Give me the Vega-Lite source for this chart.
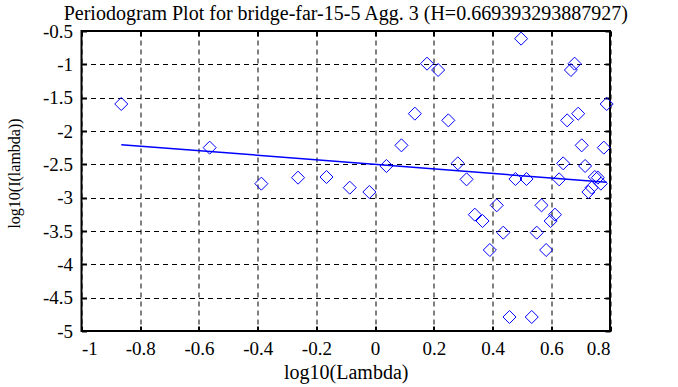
{
  "$schema": "https://vega.github.io/schema/vega-lite/v6.json",
  "autosize": "none",
  "width": 528.5,
  "height": 300,
  "padding": {"left": 81.5, "top": 31, "right": 68, "bottom": 56},
  "background": "white",
  "title": {
    "text": "Periodogram Plot for bridge-far-15-5 Agg. 3 (H=0.669393293887927)",
    "font": "Liberation Serif",
    "fontSize": 20,
    "fontWeight": "normal",
    "color": "black",
    "anchor": "middle",
    "frame": "group",
    "offset": -2
  },
  "config": {
    "view": {"stroke": "black", "strokeWidth": 2},
    "font": "Liberation Serif",
    "axis": {"labelFont": "Liberation Serif", "titleFont": "Liberation Serif"},
    "style": {"guide-label": {"font": "Liberation Serif"}, "guide-title": {"font": "Liberation Serif"}}
  },
  "datasets": {
    "pts": [
      {"x": -0.8646, "y": -1.595}, {"x": -0.5635, "y": -2.25}, {"x": -0.3874, "y": -2.79},
      {"x": -0.2625, "y": -2.70}, {"x": -0.1656, "y": -2.69}, {"x": -0.0864, "y": -2.85},
      {"x": -0.0195, "y": -2.915}, {"x": 0.0385, "y": -2.525}, {"x": 0.0897, "y": -2.215},
      {"x": 0.1354, "y": -1.74}, {"x": 0.1768, "y": -0.99}, {"x": 0.2146, "y": -1.085},
      {"x": 0.2494, "y": -1.84}, {"x": 0.2816, "y": -2.485}, {"x": 0.3115, "y": -2.725},
      {"x": 0.3396, "y": -3.255}, {"x": 0.3659, "y": -3.35}, {"x": 0.3907, "y": -3.785},
      {"x": 0.4142, "y": -3.115}, {"x": 0.4365, "y": -3.525}, {"x": 0.4577, "y": -4.79},
      {"x": 0.4779, "y": -2.72}, {"x": 0.4972, "y": -0.615}, {"x": 0.5157, "y": -2.72},
      {"x": 0.5334, "y": -4.79}, {"x": 0.5504, "y": -3.525}, {"x": 0.5668, "y": -3.115},
      {"x": 0.5826, "y": -3.785}, {"x": 0.5978, "y": -3.35}, {"x": 0.6126, "y": -3.255},
      {"x": 0.6268, "y": -2.725}, {"x": 0.6406, "y": -2.485}, {"x": 0.6540, "y": -1.84},
      {"x": 0.6669, "y": -1.085}, {"x": 0.6795, "y": -0.99}, {"x": 0.6917, "y": -1.74},
      {"x": 0.7036, "y": -2.215}, {"x": 0.7152, "y": -2.525}, {"x": 0.7265, "y": -2.915},
      {"x": 0.7375, "y": -2.85}, {"x": 0.7482, "y": -2.69}, {"x": 0.7587, "y": -2.70},
      {"x": 0.7689, "y": -2.79}, {"x": 0.7789, "y": -2.25}, {"x": 0.7887, "y": -1.595}
    ],
    "fit": [
      {"x": -0.8646, "y": -2.205},
      {"x": 0.7887, "y": -2.77}
    ]
  },
  "layer": [
    {
      "data": {"name": "fit"},
      "mark": {"type": "line", "color": "#0000ff", "strokeWidth": 1.5},
      "encoding": {
        "x": {
          "field": "x", "type": "quantitative",
          "scale": {"domain": [-1, 0.8], "nice": false, "zero": false},
          "axis": {
            "orient": "bottom",
            "title": "log10(Lambda)",
            "labelFont": "Liberation Serif",
            "titleFont": "Liberation Serif",
            "labelFontSize": 19,
            "titleFontSize": 20,
            "titleFontWeight": "normal",
            "labelColor": "black",
            "titleColor": "black",
            "domain": false,
            "tickColor": "black",
            "tickWidth": 2,
            "tickSize": -5,
            "grid": true,
            "gridColor": "black",
            "gridOpacity": 1,
            "gridDash": [5, 4],
            "gridWidth": 1,
            "values": [-1, -0.8, -0.6, -0.4, -0.2, 0, 0.2, 0.4, 0.6, 0.8],
            "labelExpr": "replace(format(datum.value, '.1~f'), '\u2212', '-')",
            "labelPadding": 13,
            "titlePadding": 4
          }
        },
        "y": {
          "field": "y", "type": "quantitative",
          "scale": {"domain": [-5, -0.5], "nice": false, "zero": false},
          "axis": {
            "orient": "left",
            "title": "log10(I(lambda))",
            "labelFont": "Liberation Serif",
            "titleFont": "Liberation Serif",
            "labelFontSize": 19,
            "titleFontSize": 16,
            "titleFontWeight": "normal",
            "labelColor": "black",
            "titleColor": "black",
            "domain": false,
            "tickColor": "black",
            "tickWidth": 2,
            "tickSize": -5,
            "grid": true,
            "gridColor": "black",
            "gridOpacity": 1,
            "gridDash": [5, 4],
            "gridWidth": 1,
            "values": [-5, -4.5, -4, -3.5, -3, -2.5, -2, -1.5, -1, -0.5],
            "labelExpr": "replace(format(datum.value, '.1~f'), '\u2212', '-')",
            "labelPadding": 14,
            "titlePadding": 20,
            "titleY": 142
          }
        }
      }
    },
    {
      "data": {"name": "pts"},
      "mark": {"type": "point", "shape": "diamond", "size": 170, "filled": false, "color": "#0000ff", "strokeWidth": 1, "opacity": 1},
      "encoding": {
        "x": {
          "field": "x", "type": "quantitative",
          "axis": {
            "orient": "top", "title": null, "labels": false, "grid": false, "domain": false,
            "tickColor": "black", "tickWidth": 2, "tickSize": -5,
            "values": [-1, -0.8, -0.6, -0.4, -0.2, 0, 0.2, 0.4, 0.6, 0.8]
          }
        },
        "y": {
          "field": "y", "type": "quantitative",
          "axis": {
            "orient": "right", "title": null, "labels": false, "grid": false, "domain": false,
            "tickColor": "black", "tickWidth": 2, "tickSize": -5,
            "values": [-5, -4.5, -4, -3.5, -3, -2.5, -2, -1.5, -1, -0.5]
          }
        }
      }
    }
  ],
  "resolve": {"axis": {"x": "independent", "y": "independent"}}
}
